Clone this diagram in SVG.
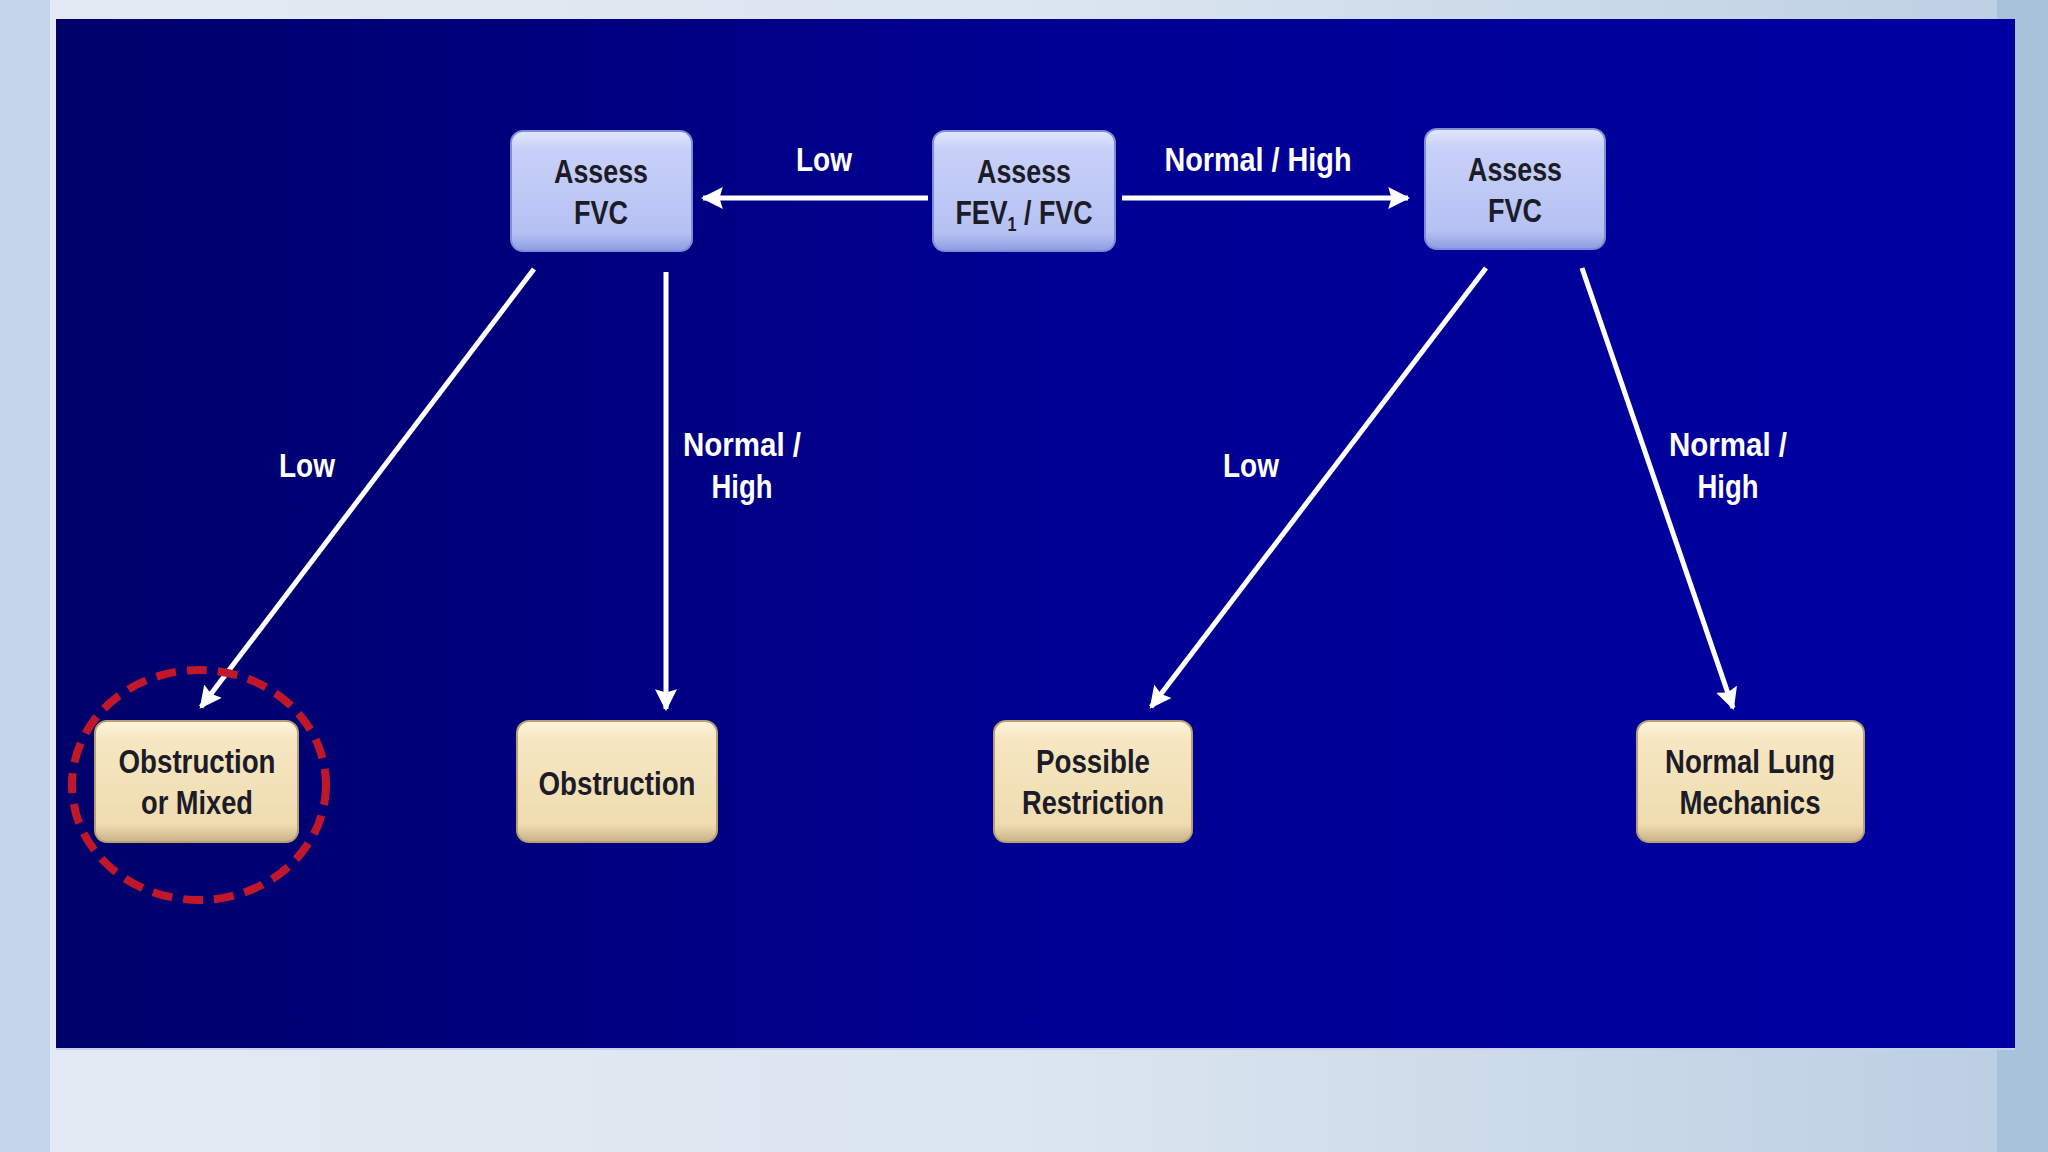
<svg xmlns="http://www.w3.org/2000/svg" width="2048" height="1152" viewBox="0 0 2048 1152">
<defs>
<linearGradient id="bgL" x1="0" y1="0" x2="1" y2="0">
<stop offset="0" stop-color="#e4eaf4"/><stop offset="0.5" stop-color="#dce6f0"/><stop offset="1" stop-color="#bccfe3"/>
</linearGradient>
<linearGradient id="panel" x1="0" y1="0" x2="1" y2="0">
<stop offset="0" stop-color="#00006a"/><stop offset="0.5" stop-color="#000092"/><stop offset="1" stop-color="#0000a2"/>
</linearGradient>
<linearGradient id="blueNode" x1="0" y1="0" x2="0" y2="1">
<stop offset="0" stop-color="#e2e7fc"/><stop offset="0.15" stop-color="#c8d1f8"/><stop offset="0.85" stop-color="#b5c1f3"/><stop offset="1" stop-color="#8e9be0"/>
</linearGradient>
<linearGradient id="tanNode" x1="0" y1="0" x2="0" y2="1">
<stop offset="0" stop-color="#fdf5de"/><stop offset="0.15" stop-color="#f6e7c2"/><stop offset="0.85" stop-color="#efdcb0"/><stop offset="1" stop-color="#c9b38a"/>
</linearGradient>
<marker id="ah" viewBox="0 0 10 10" refX="9" refY="5" markerWidth="4.4" markerHeight="4.4" markerUnits="strokeWidth" orient="auto">
<path d="M0,0 L10,5 L0,10 L1.5,5 Z" fill="#ffffff"/>
</marker>
</defs>
<style>
.lbl{font-family:"Liberation Sans",Arial,sans-serif;font-weight:bold;font-size:33px;fill:#ffffff;text-anchor:middle}
.nt{font-family:"Liberation Sans",Arial,sans-serif;font-weight:bold;font-size:33px;fill:#1c1c28;text-anchor:middle}
.bn{fill:url(#blueNode);stroke:#7f8cd8;stroke-width:2}
.tn{fill:url(#tanNode);stroke:#b8a070;stroke-width:2}
.con{stroke:#ffffff;stroke-width:5;fill:none;marker-end:url(#ah)}
</style>
<rect x="0" y="0" width="2048" height="1152" fill="url(#bgL)"/>
<rect x="0" y="0" width="50" height="1152" fill="#c3d5e8"/>
<rect x="1997" y="0" width="51" height="1152" fill="#a9c2dc"/>
<rect x="50" y="1048" width="1947" height="104" fill="url(#bgL)"/>
<rect x="56" y="19" width="1959" height="1029" fill="url(#panel)"/>
<line x1="56" y1="1049" x2="2015" y2="1049" stroke="#c8d0f0" stroke-width="2"/>

<g id="connectors">
<line class="con" x1="928" y1="198" x2="703" y2="198"/>
<line class="con" x1="1122" y1="198" x2="1408" y2="198"/>
<line class="con" x1="534" y1="269" x2="201" y2="707"/>
<line class="con" x1="666" y1="272" x2="666" y2="709"/>
<line class="con" x1="1486" y1="268" x2="1151" y2="707"/>
<line class="con" x1="1582" y1="268" x2="1733" y2="708"/>
<text class="lbl" x="824" y="171" textLength="56" lengthAdjust="spacingAndGlyphs">Low</text>
<text class="lbl" x="1258" y="171" textLength="187" lengthAdjust="spacingAndGlyphs">Normal  / High</text>
<text class="lbl" x="307" y="477" textLength="56" lengthAdjust="spacingAndGlyphs">Low</text>
<text class="lbl" x="742" y="456" textLength="118" lengthAdjust="spacingAndGlyphs">Normal  /</text>
<text class="lbl" x="742" y="498" textLength="61" lengthAdjust="spacingAndGlyphs">High</text>
<text class="lbl" x="1251" y="477" textLength="56" lengthAdjust="spacingAndGlyphs">Low</text>
<text class="lbl" x="1728" y="456" textLength="118" lengthAdjust="spacingAndGlyphs">Normal  /</text>
<text class="lbl" x="1728" y="498" textLength="61" lengthAdjust="spacingAndGlyphs">High</text>
</g>

<g id="node-assess-fvc-left">
<rect class="bn" x="511" y="131" width="181" height="120" rx="12"/>
<text class="nt" x="601" y="183" textLength="94" lengthAdjust="spacingAndGlyphs">Assess</text>
<text class="nt" x="601" y="224" textLength="54" lengthAdjust="spacingAndGlyphs">FVC</text>
</g>
<g id="node-assess-fev1-fvc">
<rect class="bn" x="933" y="131" width="182" height="120" rx="12"/>
<text class="nt" x="1024" y="183" textLength="94" lengthAdjust="spacingAndGlyphs">Assess</text>
<text class="nt" x="1024" y="224" textLength="137" lengthAdjust="spacingAndGlyphs">FEV<tspan font-size="20" dy="7">1</tspan><tspan dy="-7"> / FVC</tspan></text>
</g>
<g id="node-assess-fvc-right">
<rect class="bn" x="1425" y="129" width="180" height="120" rx="12"/>
<text class="nt" x="1515" y="181" textLength="94" lengthAdjust="spacingAndGlyphs">Assess</text>
<text class="nt" x="1515" y="222" textLength="54" lengthAdjust="spacingAndGlyphs">FVC</text>
</g>
<g id="node-obstruction-mixed">
<rect class="tn" x="95" y="721" width="203" height="121" rx="12"/>
<text class="nt" x="197" y="773" textLength="157" lengthAdjust="spacingAndGlyphs">Obstruction</text>
<text class="nt" x="197" y="814" textLength="112" lengthAdjust="spacingAndGlyphs">or Mixed</text>
</g>
<g id="node-obstruction">
<rect class="tn" x="517" y="721" width="200" height="121" rx="12"/>
<text class="nt" x="617" y="795" textLength="157" lengthAdjust="spacingAndGlyphs">Obstruction</text>
</g>
<g id="node-possible-restriction">
<rect class="tn" x="994" y="721" width="198" height="121" rx="12"/>
<text class="nt" x="1093" y="773" textLength="114" lengthAdjust="spacingAndGlyphs">Possible</text>
<text class="nt" x="1093" y="814" textLength="142" lengthAdjust="spacingAndGlyphs">Restriction</text>
</g>
<g id="node-normal-lung">
<rect class="tn" x="1637" y="721" width="227" height="121" rx="12"/>
<text class="nt" x="1750" y="773" textLength="170" lengthAdjust="spacingAndGlyphs">Normal Lung</text>
<text class="nt" x="1750" y="814" textLength="141" lengthAdjust="spacingAndGlyphs">Mechanics</text>
</g>
<g id="highlight">
<ellipse cx="199" cy="785" rx="127" ry="115" fill="none" stroke="#c0182a" stroke-width="8" stroke-dasharray="20 11"/>
</g>
</svg>
